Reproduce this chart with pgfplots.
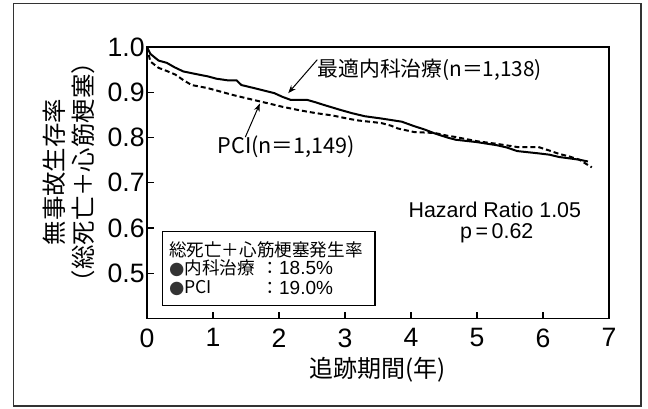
\documentclass[border=0pt]{standalone}
\usepackage{pgfplots}
\pgfplotsset{compat=1.18}
\usepackage{fontspec}
\setmainfont{Noto Sans CJK JP}
\newfontfamily\dejavu{DejaVu Sans}
\newfontfamily\lib{Liberation Sans}
\usetikzlibrary{arrows.meta}
\begin{document}
\begin{tikzpicture}
\useasboundingbox (-73.5pt,-44.75pt) rectangle (250.5pt,159.25pt);
\draw[line width=0.7pt, black!80] (-66.75pt,-43.75pt) rectangle (247pt,157.5pt);
\begin{axis}[
  at={(0,0)}, anchor=south west,
  scale only axis, width=231pt, height=135.75pt,
  xmin=0, xmax=7, ymin=0.4, ymax=1.0,
  xtick={0,1,...,7}, ytick={0.5,0.6,0.7,0.8,0.9,1.0},
  yticklabels={0.5,0.6,0.7,0.8,0.9,1.0},
  tick pos=left, tick align=inside,
  major tick length=3.5pt,
  axis line style={line width=0.6pt},
  tick style={line width=0.6pt, black},
  /pgf/number format/assume math mode=true,
  ticklabel style={font=\lib\fontsize{13.3}{14}\selectfont},
  xticklabel style={yshift=-1.5pt},
  yticklabel style={inner sep=1pt},
  clip=false,
]
\addplot[black, line width=1pt] coordinates {
(0,1.0) (0.05,0.985) (0.175,0.970) (0.30,0.965) (0.42,0.955) (0.55,0.946) (0.75,0.940) (0.925,0.935)
(1.05,0.930) (1.24,0.926) (1.36,0.926) (1.43,0.916) (1.60,0.910) (1.74,0.905) (1.93,0.898)
(2.05,0.890) (2.18,0.883) (2.43,0.883) (2.55,0.878) (2.68,0.872) (2.93,0.861) (3.10,0.854)
(3.30,0.847) (3.55,0.842) (3.86,0.835) (4.05,0.825) (4.20,0.818) (4.36,0.809) (4.55,0.800)
(4.68,0.795) (4.99,0.790) (5.30,0.783) (5.45,0.778) (5.61,0.770) (5.93,0.765) (6.10,0.762)
(6.24,0.757) (6.55,0.751) (6.68,0.747)
};
\addplot[black, line width=1pt, dash pattern=on 2.5pt off 1.5pt] coordinates {
(0,1.0) (0.05,0.968) (0.175,0.954) (0.30,0.947) (0.43,0.939) (0.55,0.927) (0.675,0.916)
(0.925,0.909) (1.10,0.902) (1.30,0.894) (1.50,0.887) (1.675,0.881) (1.85,0.875) (2.05,0.868)
(2.25,0.862) (2.43,0.857) (2.60,0.853) (2.80,0.849) (3.00,0.843) (3.18,0.838) (3.55,0.832)
(3.70,0.826) (3.80,0.820) (4.05,0.812) (4.36,0.810) (4.55,0.804) (4.68,0.801) (4.99,0.792)
(5.30,0.786) (5.61,0.779) (5.93,0.779) (6.10,0.771) (6.24,0.764) (6.40,0.758) (6.55,0.751)
(6.74,0.734)
};
% curve labels and arrows
\node[anchor=west, inner sep=0pt, font=\fontsize{10.4}{12}\selectfont] at (axis cs:2.58,0.950) {最適内科治療(n＝1,138)};
\draw[line width=0.5pt, -{Stealth[length=4pt,width=3pt]}] (axis cs:2.58,0.972) -- (axis cs:2.14,0.898);
\node[inner sep=0pt, font=\fontsize{10.8}{12}\selectfont] at (axis cs:2.11,0.779) {PCI(n＝1,149)};
\draw[line width=0.5pt, -{Stealth[length=4pt,width=3pt]}] (axis cs:1.49,0.801) -- (axis cs:1.71,0.875);
% hazard ratio
\node[inner sep=0pt, font=\lib\fontsize{10.7}{12}\selectfont] at (axis cs:5.27,0.641) {Hazard Ratio 1.05};
\node[inner sep=0pt, font=\lib\fontsize{10.7}{12}\selectfont] at (axis cs:5.30,0.589) {p\,=\,0.62};
% legend box
\draw[line width=0.6pt, fill=white] (axis cs:0.2375,0.429) rectangle (axis cs:3.456,0.593);
\node[anchor=west, inner sep=0pt, font=\fontsize{8.8}{10}\selectfont] at (axis cs:0.33,0.552) {総死亡＋心筋梗塞発生率};
\node[anchor=west, inner sep=0pt, font=\fontsize{8.8}{10}\selectfont] at (axis cs:0.33,0.511) {{\dejavu\color{black!80}●}内科治療};
\node[anchor=west, inner sep=0pt, font=\fontsize{8.8}{10}\selectfont] at (axis cs:0.33,0.467) {{\dejavu\color{black!80}●}PCI};
\node[anchor=west, inner sep=0pt, font=\fontsize{8.8}{10}\selectfont] at (axis cs:1.73,0.511) {：{\lib\fontsize{9.5}{10}\selectfont 18.5\%}};
\node[anchor=west, inner sep=0pt, font=\fontsize{8.8}{10}\selectfont] at (axis cs:1.73,0.467) {：{\lib\fontsize{9.5}{10}\selectfont 19.0\%}};
\end{axis}
\node[rotate=90, align=center, font=\fontsize{12.2}{14.5}\selectfont] at (-39.25pt,73.25pt) {無事故生存率\\（総死亡＋心筋梗塞）};
\node[font=\fontsize{12}{14}\selectfont] at (115.25pt,-25.5pt) {追跡期間(年)};
\end{tikzpicture}
\end{document}
